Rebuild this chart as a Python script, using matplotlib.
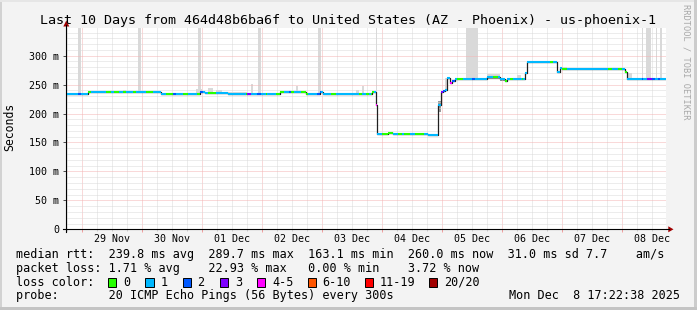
import matplotlib
matplotlib.use("Agg")
import matplotlib.pyplot as plt
from matplotlib.lines import Line2D
from matplotlib.patches import Rectangle, Polygon
import numpy as np

W, H = 697, 310
MONO = "DejaVu Sans Mono"
plt.rcParams["font.family"] = MONO

# x axis: days since 28 Nov 2025 00:00, graph ends Mon Dec 8 17:22:38
t_start = (17 + 22 / 60 + 38 / 3600) / 24
t_end = t_start + 10

day_labels = ["29 Nov", "30 Nov", "01 Dec", "02 Dec", "03 Dec",
              "04 Dec", "05 Dec", "06 Dec", "07 Dec", "08 Dec"]
y_ticks = [0, 50, 100, 150, 200, 250, 300]
y_labels = ["0", "50 m", "100 m", "150 m", "200 m", "250 m", "300 m"]

# median rtt in ms, value holds from each time until the next one
med_t = [t_start, 1.090, 2.312, 2.962, 3.045, 3.428, 4.295, 4.728, 4.962, 5.003,
         5.828, 5.890, 5.917, 6.095, 6.178, 6.295, 6.428, 6.595, 6.762, 6.923,
         6.973, 7.007, 7.045, 7.083, 7.123, 7.157, 7.212, 7.740, 7.962, 8.045,
         8.083, 8.378, 8.407, 8.917, 8.962, 8.990, 9.767, 9.823, 10.045, 10.078]
med_ms = [234.3, 236.7, 234.3, 236.7, 235.5, 234.3, 236.7, 234.3, 236.7, 234.3,
          236.7, 214.6, 164.5, 166.0, 164.5, 165.5, 164.5, 165.5, 163.1, 214.6,
          237.0, 239.5, 240.7, 261.0, 252.0, 257.0, 260.2, 263.5, 259.7, 256.5,
          259.7, 269.5, 289.7, 271.5, 278.0, 276.2, 277.0, 276.2, 271.0, 260.0]

# packet loss bucket along the median line
loss_t = [t_start, 0.923, 0.978, 1.090, 1.145, 1.395, 1.478, 1.528, 1.612, 1.673,
          1.728, 1.845, 1.895, 2.062, 2.178, 2.395, 2.512, 2.562, 2.678, 2.762,
          2.912, 2.962, 3.012, 3.095, 3.228, 3.723, 3.750, 3.807, 3.917, 3.973,
          4.057, 4.083, 4.223, 4.362, 4.445, 4.473, 4.528, 4.640, 4.762, 4.917,
          4.973, 5.140, 5.223, 5.612, 5.667, 5.728, 5.778, 5.807, 5.862, 5.890,
          5.917, 5.990, 6.178, 6.262, 6.328, 6.362, 6.462, 6.545, 6.695, 6.973,
          7.007, 7.045, 7.123, 7.157, 7.212, 7.240, 7.350, 7.490, 7.545, 7.850,
          7.933, 8.045, 8.083, 8.128, 8.183, 8.323, 8.350, 8.795, 8.850, 8.990,
          9.073, 9.767, 9.823, 9.933, 9.990, 10.045, 10.078, 10.323, 10.350, 10.407,
          10.490, 10.545, 10.600, 10.628]
loss_lvl = [1, 2, 1, 0, 1, 0, 1, 0, 1, 0,
            1, 0, 1, 0, 1, 0, 2, 1, 0, 1,
            0, 2, 1, 0, 1, 0, 3, 1, 2, 1,
            0, 1, 0, 1, 2, 0, 1, 0, 1, 2,
            1, 0, 1, 0, 1, 0, 1, 0, 1, 4,
            1, 0, 1, 0, 1, 0, 1, 0, 1, 3,
            2, 1, 4, 2, 1, 0, 1, 2, 1, 0,
            1, 0, 1, 0, 1, 0, 1, 0, 1, 0,
            1, 0, 1, 0, 1, 0, 1, 2, 1, 3,
            2, 1, 2, 1]

loss_colors = ["#26ff00", "#00b8ff", "#0059ff", "#7e00ff",
               "#ff00ff", "#ff5500", "#ff0000", "#a10000"]
loss_names = ["0", "1", "2", "3", "4-5", "6-10", "11-19", "20/20"]

# smoke (spread of the single pings), ms; 400 = beyond the top of the graph
smoke_t0 = [0.933, 1.933, 2.933, 3.933, 4.933, 5.890, 7.395, 10.323, 10.395, 10.557, 10.628,
            1.678, 2.895, 3.095, 3.228, 3.428, 3.807, 4.557, 5.557, 5.662,
            5.890, 6.923, 7.045, 7.740, 7.740, 7.962, 8.245, 8.995, 10.095]
smoke_t1 = [0.978, 1.978, 2.978, 3.978, 4.978, 5.917, 7.590, 10.350, 10.478, 10.583, 10.662,
            1.728, 2.990, 3.178, 3.328, 3.745, 3.850, 4.590, 5.612, 5.695,
            5.917, 6.973, 7.083, 7.962, 7.962, 8.045, 8.312, 9.078, 10.162]
smoke_lo = [234, 236, 236, 234, 236, 236, 260, 260, 260, 260, 260,
            236, 236, 235, 234, 234, 234, 236, 234, 234,
            214, 203, 240, 259, 260, 256, 259, 276, 260]
smoke_hi = [400, 400, 400, 400, 400, 400, 400, 400, 400, 400, 400,
            241, 242, 244, 240, 238, 251, 248, 241, 247,
            229, 222, 262, 268, 265, 260, 266, 280, 270]
smoke_dark = [0] * 20 + [1, 1, 0, 0, 1, 1, 0, 0, 0]

fig = plt.figure(figsize=(W / 100, H / 100), dpi=100, facecolor="#f3f3f3")
ax = fig.add_axes([65.8 / W, (H - 229.3) / H, 600 / W, 201 / H])
ax.set_facecolor("white")
ax.set_xlim(t_start, t_end)
ax.set_ylim(0, 347.3)
for s in ax.spines.values():
    s.set_visible(False)


def fx(x):
    return x / W


def fy(y):
    return 1 - y / H


# smoke
for t0, t1, lo, hi, dk in zip(smoke_t0, smoke_t1, smoke_lo, smoke_hi, smoke_dark):
    ax.bar(t0, hi - lo, width=t1 - t0, bottom=lo, align="edge",
           color="#9a9a9a" if dk else "#d9d9d9", linewidth=0, zorder=2)

# grid
dots = (0, (1, 1))
major_c, minor_c = "#f5b4b4", "#dadada"
for d in range(1, 11):
    ax.axvline(d, color=major_c, lw=0.72, ls=dots, zorder=3)
for q in np.arange(np.ceil(t_start * 4) / 4, t_end, 0.25):
    if q % 1:
        ax.axvline(q, color=minor_c, lw=0.72, ls=dots, zorder=3)
for v in range(10, 347, 10):
    ax.axhline(v, color=minor_c if v % 50 else major_c, lw=0.72, ls=dots, zorder=3)

# median: thin dark step line, coloured by loss on top
ax.step(med_t + [t_end], med_ms + [med_ms[-1]], where="post",
        color="#202020", lw=0.9, zorder=4)
edges = np.unique(np.concatenate([med_t, loss_t, [t_end]]))
x0, x1 = edges[:-1], edges[1:]
yi = np.searchsorted(med_t, x0, side="right") - 1
li = np.searchsorted(loss_t, x0, side="right") - 1
ax.hlines(np.array(med_ms)[yi], x0, x1,
          colors=np.array(loss_colors)[np.array(loss_lvl)[li]], lw=1.5, zorder=5)

# ticks
ax.set_xticks(range(1, 11))
ax.set_xticklabels([])
ax.set_xticks(np.arange(np.ceil(t_start * 4) / 4, t_end, 0.25), minor=True)
ax.tick_params(axis="x", which="major", length=2.2, width=0.72, color="#f0a0a0")
ax.tick_params(axis="x", which="minor", length=1.5, width=0.72, color="#cfcfcf")
ax.set_yticks(y_ticks, y_labels)
ax.tick_params(axis="y", length=2.2, width=0.72, color="#505050",
               labelsize=7.2, pad=2.6)
for i, lab in enumerate(day_labels):
    ax.text(i + 1.5, -(241.7 - 229.3) / 201, lab, transform=ax.get_xaxis_transform(),
            ha="center", va="baseline", fontsize=7.2)

# axes lines with arrows
fig.add_artist(Line2D([fx(66.3), fx(66.3)], [fy(231.5), fy(25)], color="black", lw=0.8))
fig.add_artist(Line2D([fx(63), fx(668.5)], [fy(229.3), fy(229.3)], color="black", lw=0.8))
fig.add_artist(Polygon([(fx(63.3), fy(26.5)), (fx(69.3), fy(26.5)), (fx(66.3), fy(20.5))],
                       closed=True, color="#a10000", lw=0))
fig.add_artist(Polygon([(fx(668.3), fy(226.3)), (fx(668.3), fy(232.3)), (fx(673.5), fy(229.3))],
                       closed=True, color="#a10000", lw=0))

# texts
fig.text(fx(348.5), fy(24), "Last 10 Days from 464d48b6ba6f to United States (AZ - Phoenix) - us-phoenix-1",
         ha="center", va="baseline", fontsize=9.6)
fig.text(fx(10), fy(127), "Seconds", rotation=90, ha="center", va="center", fontsize=8.3)
fig.text(fx(686), fy(4), "RRDTOOL / TOBI OETIKER", rotation=270, ha="center", va="top",
         fontsize=6.2, color="#a8a8a8")

rows = [
    "median rtt:  239.8 ms avg  289.7 ms max  163.1 ms min  260.0 ms now  31.0 ms sd 7.7    am/s",
    "packet loss: 1.71 % avg    22.93 % max   0.00 % min    3.72 % now",
    "loss color:",
    "probe:       20 ICMP Echo Pings (56 Bytes) every 300s",
]
for i, r in enumerate(rows):
    fig.text(fx(15.6), fy(257.7 + 13.9 * i), r, ha="left", va="baseline", fontsize=8.5)
fig.text(fx(680), fy(257.7 + 13.9 * 3), "Mon Dec  8 17:22:38 2025", ha="right",
         va="baseline", fontsize=8.5)

sq_x = [108, 145.3, 182.5, 219.7, 257, 307.6, 365, 429]
for x, c, name in zip(sq_x, loss_colors, loss_names):
    fig.add_artist(Rectangle((fx(x), fy(286.5)), 8.2 / W, 8.2 / H, facecolor=c,
                             edgecolor="black", lw=0.7))
    fig.text(fx(x + 15), fy(257.7 + 13.9 * 2), name, ha="left", va="baseline", fontsize=8.5)

# 3d border
fig.add_artist(Rectangle((0, 0), 2 / W, 1, color="#d2d2d2", lw=0))
fig.add_artist(Rectangle((0, 1 - 2 / H), 1, 2 / H, color="#e6e6e6", lw=0))
fig.add_artist(Rectangle((1 - 3 / W, 0), 3 / W, 1, color="#cccccc", lw=0))
fig.add_artist(Rectangle((0, 0), 1, 3 / H, color="#c4c4c4", lw=0))

fig.savefig("out.png", dpi=100, facecolor=fig.get_facecolor())
